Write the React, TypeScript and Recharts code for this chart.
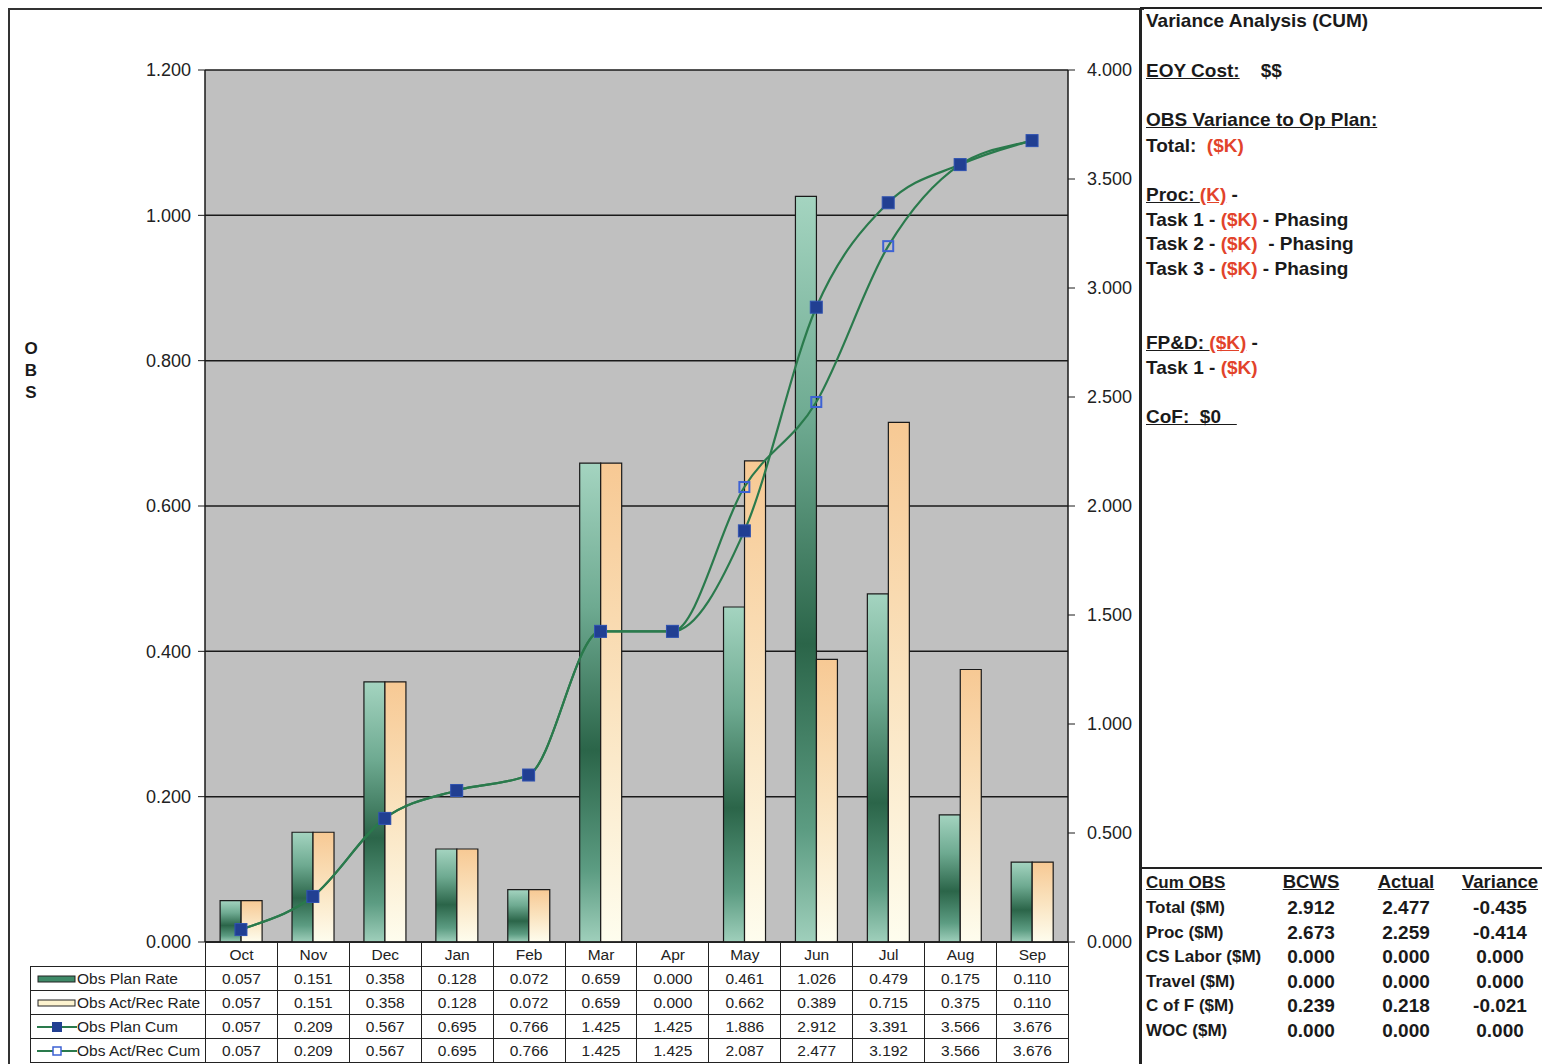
import React from 'react';
import { ComposedChart, Bar, Line, XAxis, YAxis, CartesianGrid } from 'recharts';

const months = ['Oct', 'Nov', 'Dec', 'Jan', 'Feb', 'Mar', 'Apr', 'May', 'Jun', 'Jul', 'Aug', 'Sep'];
const planRate = [0.057, 0.151, 0.358, 0.128, 0.072, 0.659, 0.0, 0.461, 1.026, 0.479, 0.175, 0.11];
const actRate = [0.057, 0.151, 0.358, 0.128, 0.072, 0.659, 0.0, 0.662, 0.389, 0.715, 0.375, 0.11];
const planCum = [0.057, 0.209, 0.567, 0.695, 0.766, 1.425, 1.425, 1.886, 2.912, 3.391, 3.566, 3.676];
const actCum = [0.057, 0.209, 0.567, 0.695, 0.766, 1.425, 1.425, 2.087, 2.477, 3.192, 3.566, 3.676];

const leftTicks = [0, 0.2, 0.4, 0.6, 0.8, 1.0, 1.2];
const rightTicks = [0, 0.5, 1.0, 1.5, 2.0, 2.5, 3.0, 3.5, 4.0];

const seriesNames = ['Obs Plan Rate', 'Obs Act/Rec Rate', 'Obs Plan Cum', 'Obs Act/Rec Cum'];

const cumRows = ['Total ($M)', 'Proc ($M)', 'CS Labor ($M)', 'Travel ($M)', 'C of F ($M)', 'WOC ($M)'];
const cumBcws = ['2.912', '2.673', '0.000', '0.000', '0.239', '0.000'];
const cumActual = ['2.477', '2.259', '0.000', '0.000', '0.218', '0.000'];
const cumVariance = ['-0.435', '-0.414', '0.000', '0.000', '-0.021', '0.000'];

const data = months.map((m, i) => ({
  name: m,
  planRate: planRate[i],
  actRate: actRate[i],
  planCum: planCum[i],
  actCum: actCum[i],
}));

const FONT = '"Liberation Sans", Arial, sans-serif';
const RED = '#e2432b';

// smoothed line: Catmull-Rom tangents, clamped so flat runs stay flat
const smoothCurve = (context: any) => {
  let pts: number[][] = [];
  return {
    areaStart() {},
    areaEnd() {},
    lineStart() {
      pts = [];
    },
    point(x: number, y: number) {
      pts.push([+x, +y]);
    },
    lineEnd() {
      const n = pts.length;
      if (!n) return;
      const slope = (a: number[], b: number[]) => (b[1] - a[1]) / (b[0] - a[0]);
      const m: number[] = pts.map((p, i) => {
        if (i === 0) return slope(pts[0], pts[1]) * 0.8;
        if (i === n - 1) return slope(pts[n - 2], pts[n - 1]) * 0.8;
        const s0 = slope(pts[i - 1], p);
        const s1 = slope(p, pts[i + 1]);
        if (s0 * s1 <= 0) return 0;
        let t = (pts[i + 1][1] - pts[i - 1][1]) / (pts[i + 1][0] - pts[i - 1][0]);
        const lim = 2 * Math.min(Math.abs(s0), Math.abs(s1));
        if (Math.abs(t) > lim) t = Math.sign(t) * lim;
        return t;
      });
      context.moveTo(pts[0][0], pts[0][1]);
      for (let i = 0; i < n - 1; i++) {
        const dx = (pts[i + 1][0] - pts[i][0]) / 3;
        context.bezierCurveTo(
          pts[i][0] + dx,
          pts[i][1] + m[i] * dx,
          pts[i + 1][0] - dx,
          pts[i + 1][1] - m[i + 1] * dx,
          pts[i + 1][0],
          pts[i + 1][1]
        );
      }
    },
  };
};

const PlanDot = (props: any) => {
  const { cx, cy, index } = props;
  if (cx == null || cy == null) return null;
  return <rect key={`p-${index}`} x={cx - 6} y={cy - 6} width={12} height={12} fill="#213f92" stroke="#3153b0" strokeWidth={1} />;
};

const ActDot = (props: any) => {
  const { cx, cy, index } = props;
  if (cx == null || cy == null) return null;
  return <rect key={`a-${index}`} x={cx - 5} y={cy - 5} width={10} height={10} fill="none" stroke="#3d62d4" strokeWidth={2} />;
};

const fmt = (v: number) => v.toFixed(3);

const Swatch = ({ kind }: { kind: number }) => {
  if (kind === 0)
    return (
      <svg width={40} height={10} style={{ verticalAlign: 'middle' }}>
        <rect x={1} y={2} width={37} height={6} fill="#3f8a68" stroke="#222" />
      </svg>
    );
  if (kind === 1)
    return (
      <svg width={40} height={10} style={{ verticalAlign: 'middle' }}>
        <rect x={1} y={2} width={37} height={6} fill="#fdf3cf" stroke="#222" />
      </svg>
    );
  return (
    <svg width={40} height={12} style={{ verticalAlign: 'middle' }}>
      <line x1={0} y1={6} x2={40} y2={6} stroke="#2a7a4c" strokeWidth={2} />
      {kind === 2 ? (
        <rect x={15} y={1} width={10} height={10} fill="#213f92" />
      ) : (
        <rect x={16} y={2} width={8} height={8} fill="#fff" stroke="#3d62d4" strokeWidth={1.5} />
      )}
    </svg>
  );
};

const tableRows = [planRate, actRate, planCum, actCum];

const cellStyle: React.CSSProperties = {
  border: '1px solid #222',
  height: 23,
  padding: 0,
  textAlign: 'center',
  fontSize: 15.5,
  color: '#222',
};

const PanelLine = ({ y, children }: { y: number; children: React.ReactNode }) => (
  <div
    style={{
      position: 'absolute',
      left: 1146,
      top: y - 12,
      lineHeight: '24px',
      fontSize: 19,
      fontWeight: 'bold',
      fontFamily: FONT,
      color: '#1a1a1a',
      whiteSpace: 'pre',
    }}
  >
    {children}
  </div>
);

const U = ({ children, red }: { children: React.ReactNode; red?: boolean }) => (
  <span style={{ textDecoration: 'underline', color: red ? RED : undefined }}>{children}</span>
);
const R = ({ children }: { children: React.ReactNode }) => <span style={{ color: RED }}>{children}</span>;

export default function App() {
  return (
    <div style={{ position: 'absolute', left: 0, top: 0, width: 1542, height: 1064, background: '#fff', overflow: 'hidden', fontFamily: FONT }}>
      {/* outer frame of chart area */}
      <div style={{ position: 'absolute', left: 8, top: 8, width: 1134, height: 1070, borderLeft: '2px solid #333', borderTop: '2px solid #333' }} />

      <div style={{ position: 'absolute', left: 8, top: 8 }}>
        <ComposedChart
          width={1132}
          height={1056}
          data={data}
          margin={{ top: 62, left: 117, right: 12, bottom: 120 }}
          barCategoryGap="21%"
          barGap={0}
        >
          <defs>
            <linearGradient id="gPlan" x1="0" y1="0" x2="0" y2="1">
              <stop offset="0" stopColor="#a4d4c0" />
              <stop offset="0.3" stopColor="#6eaa91" />
              <stop offset="0.6" stopColor="#2b6549" />
              <stop offset="0.85" stopColor="#5c9c82" />
              <stop offset="1" stopColor="#9fcfbb" />
            </linearGradient>
            <linearGradient id="gAct" x1="0" y1="0" x2="0" y2="1">
              <stop offset="0" stopColor="#f7c994" />
              <stop offset="0.5" stopColor="#fae3bf" />
              <stop offset="1" stopColor="#fefdee" />
            </linearGradient>
          </defs>
          <CartesianGrid yAxisId="left" vertical={false} stroke="#1a1a1a" strokeWidth={1.5} fill="#c0c0c0" fillOpacity={1} />
          <XAxis dataKey="name" tick={false} tickLine={false} height={2} axisLine={{ stroke: '#1a1a1a', strokeWidth: 1.5 }} />
          <YAxis
            yAxisId="left"
            width={80}
            domain={[0, 1.2]}
            ticks={leftTicks}
            tickFormatter={fmt}
            tickSize={7}
            tickMargin={7}
            axisLine={{ stroke: '#1a1a1a', strokeWidth: 1.5 }}
            tickLine={{ stroke: '#1a1a1a' }}
            tick={{ fill: '#222', fontSize: 18, fontFamily: FONT }}
            allowDataOverflow
          />
          <YAxis
            yAxisId="right"
            orientation="right"
            width={60}
            domain={[0, 4]}
            ticks={rightTicks}
            tickFormatter={fmt}
            tickSize={7}
            tickMargin={12}
            axisLine={{ stroke: '#1a1a1a', strokeWidth: 1.5 }}
            tickLine={{ stroke: '#1a1a1a' }}
            tick={{ fill: '#222', fontSize: 18, fontFamily: FONT }}
            allowDataOverflow
          />
          <Bar yAxisId="left" dataKey="planRate" fill="url(#gPlan)" stroke="#1a1a1a" strokeWidth={1.2} isAnimationActive={false} />
          <Bar yAxisId="left" dataKey="actRate" fill="url(#gAct)" stroke="#1a1a1a" strokeWidth={1.2} isAnimationActive={false} />
          <Line yAxisId="right" type={smoothCurve as any} dataKey="actCum" stroke="#2a7a4c" strokeWidth={2.2} dot={ActDot} activeDot={false} isAnimationActive={false} />
          <Line yAxisId="right" type={smoothCurve as any} dataKey="planCum" stroke="#2a7a4c" strokeWidth={2.2} dot={PlanDot} activeDot={false} isAnimationActive={false} />
        </ComposedChart>
      </div>

      {/* OBS axis title */}
      <div style={{ position: 'absolute', left: 22, top: 338, width: 18, textAlign: 'center', fontSize: 17, fontWeight: 'bold', lineHeight: '22px', color: '#1a1a1a' }}>
        O<br />B<br />S
      </div>

      {/* data table */}
      <table
        style={{
          position: 'absolute',
          left: 30,
          top: 942,
          borderCollapse: 'collapse',
          tableLayout: 'fixed',
          width: 175 + 863,
          fontFamily: FONT,
        }}
      >
        <colgroup>
          <col style={{ width: 175 }} />
          {months.map((m) => (
            <col key={m} style={{ width: 863 / 12 }} />
          ))}
        </colgroup>
        <tbody>
          <tr>
            <td style={{ ...cellStyle, border: 'none' }} />
            {months.map((m) => (
              <td key={m} style={cellStyle}>
                {m}
              </td>
            ))}
          </tr>
          {tableRows.map((row, r) => (
            <tr key={r}>
              <td style={{ ...cellStyle, textAlign: 'left', paddingLeft: 6, whiteSpace: 'nowrap', overflow: 'hidden' }}>
                <Swatch kind={r} />
                {seriesNames[r]}
              </td>
              {row.map((v, i) => (
                <td key={i} style={cellStyle}>
                  {fmt(v)}
                </td>
              ))}
            </tr>
          ))}
        </tbody>
      </table>

      {/* right panel */}
      <div style={{ position: 'absolute', left: 1139, top: 8, width: 3, height: 1060, background: '#222' }} />
      <div style={{ position: 'absolute', left: 1140, top: 7, width: 402, height: 2, background: '#222' }} />
      <div style={{ position: 'absolute', left: 1140, top: 867, width: 402, height: 2, background: '#222' }} />

      <PanelLine y={21}>Variance Analysis (CUM)</PanelLine>
      <PanelLine y={71}>
        <U>EOY Cost:</U>
        {'    $$'}
      </PanelLine>
      <PanelLine y={120}>
        <U>OBS Variance to Op Plan:</U>
      </PanelLine>
      <PanelLine y={146}>
        Total:  <R>($K)</R>
      </PanelLine>
      <PanelLine y={195}>
        <U>Proc: </U>
        <U red>(K)</U> -
      </PanelLine>
      <PanelLine y={220}>
        Task 1 - <R>($K)</R> - Phasing
      </PanelLine>
      <PanelLine y={244}>
        Task 2 - <R>($K)</R>  - Phasing
      </PanelLine>
      <PanelLine y={269}>
        Task 3 - <R>($K)</R> - Phasing
      </PanelLine>
      <PanelLine y={343}>
        <U>FP&amp;D: </U>
        <U red>($K)</U> -
      </PanelLine>
      <PanelLine y={368}>
        Task 1 - <R>($K)</R>
      </PanelLine>
      <PanelLine y={417}>
        <U>CoF:  $0   </U>
      </PanelLine>

      {/* cumulative table */}
      <div style={{ position: 'absolute', left: 1146, top: 872, fontSize: 17, fontWeight: 'bold', textDecoration: 'underline', color: '#1a1a1a', lineHeight: '22px' }}>
        Cum OBS
      </div>
      {[
        { label: 'BCWS', cx: 1311, vals: cumBcws },
        { label: 'Actual', cx: 1406, vals: cumActual },
        { label: 'Variance', cx: 1500, vals: cumVariance },
      ].map((col) => (
        <React.Fragment key={col.label}>
          <div style={{ position: 'absolute', left: col.cx - 50, width: 100, top: 871, textAlign: 'center', fontSize: 18.5, fontWeight: 'bold', textDecoration: 'underline', color: '#1a1a1a', lineHeight: '22px' }}>
            {col.label}
          </div>
          {col.vals.map((v, i) => (
            <div key={i} style={{ position: 'absolute', left: col.cx - 50, width: 100, top: 897 + i * 24.6, textAlign: 'center', fontSize: 19, fontWeight: 'bold', color: '#1a1a1a', lineHeight: '22px' }}>
              {v}
            </div>
          ))}
        </React.Fragment>
      ))}
      {cumRows.map((r, i) => (
        <div key={r} style={{ position: 'absolute', left: 1146, top: 897 + i * 24.6, fontSize: 17, fontWeight: 'bold', color: '#1a1a1a', lineHeight: '22px', whiteSpace: 'nowrap' }}>
          {r}
        </div>
      ))}
    </div>
  );
}
